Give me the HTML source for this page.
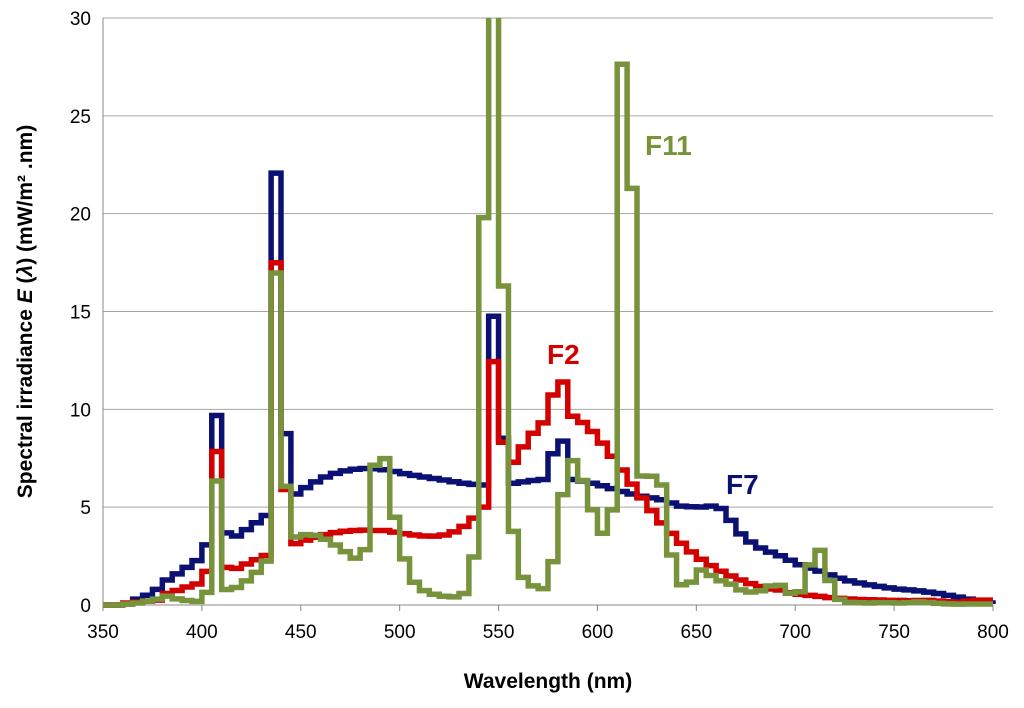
<!DOCTYPE html>
<html><head><meta charset="utf-8"><style>
body{margin:0;background:#fff;width:1024px;height:703px;overflow:hidden;font-family:"Liberation Sans",sans-serif}
</style></head><body>
<svg id="chart" width="1024" height="703" xmlns="http://www.w3.org/2000/svg"></svg>
<script>
const startWl = 360, stepWl = 5;
const f2Values = [0.2,0.3,0.4,0.5,1.18,1.48,1.84,2.15,3.44,15.69,3.85,3.74,4.19,4.62,5.06,34.98,11.81,6.27,6.63,6.93,7.19,7.40,7.54,7.62,7.65,7.62,7.62,7.45,7.28,7.15,7.05,7.04,7.16,7.47,8.04,8.88,10.01,24.88,16.64,14.59,16.16,17.56,18.62,21.47,22.79,19.29,18.66,17.73,16.54,15.21,13.80,12.36,10.95,9.65,8.40,7.32,6.31,5.43,4.68,4.02,3.45,2.96,2.55,2.19,1.89,1.64,1.53,1.27,1.10,0.99,0.88,0.76,0.68,0.61,0.56,0.54,0.51,0.47,0.47,0.43,0.46,0.47,0.40,0.33,0.27,0.4,0.5,0.5,0.5];
const f7Values = [0.1,0.6,1.0,1.6,2.56,3.18,3.84,4.53,6.15,19.37,7.37,7.05,7.71,8.41,9.15,44.14,17.52,11.35,12.00,12.58,13.08,13.45,13.71,13.88,13.95,13.93,13.82,13.64,13.43,13.25,13.08,12.93,12.78,12.60,12.44,12.33,12.26,29.52,17.05,12.44,12.58,12.72,12.83,15.46,16.75,12.83,12.67,12.45,12.19,11.89,11.60,11.35,11.12,10.95,10.76,10.42,10.11,10.04,10.02,10.11,9.87,8.65,7.27,6.44,5.83,5.41,5.04,4.57,4.12,3.77,3.46,3.08,2.73,2.47,2.25,2.06,1.90,1.75,1.62,1.54,1.45,1.32,1.17,0.99,0.81,0.6,0.4,0.2,0.1];
const f11Values = [0.1,0.2,0.4,0.6,0.91,0.63,0.46,0.37,1.29,12.68,1.59,1.79,2.46,3.33,4.49,33.94,12.13,6.95,7.19,7.12,6.72,6.13,5.46,4.79,5.66,14.29,14.96,8.97,4.72,2.33,1.47,1.10,0.89,0.83,1.18,4.90,39.59,72.84,32.61,7.52,2.83,1.96,1.67,4.43,11.28,14.76,12.73,9.74,7.33,9.72,55.27,42.58,13.18,13.16,12.26,5.11,2.07,2.34,3.58,3.01,2.48,2.14,1.54,1.33,1.46,1.94,2.00,1.20,1.35,4.10,5.58,2.51,0.57,0.27,0.23,0.21,0.24,0.24,0.20,0.24,0.32,0.26,0.16,0.12,0.09,0.1,0.1,0.1,0.1];
const scale = 0.5;
const xTicks = [350,400,450,500,550,600,650,700,750,800];
const yTicks = [0,5,10,15,20,25,30];

const L=103,R=993,T=18,B=605;
const xs = v => L+(v-350)/(800-350)*(R-L);
const ys = v => B-(v)/30*(B-T);
const svg=document.getElementById('chart');
const NS='http://www.w3.org/2000/svg';
function mk(tag,attrs,parent){const e=document.createElementNS(NS,tag);for(const k in attrs)e.setAttribute(k,attrs[k]);(parent||svg).appendChild(e);return e;}

const defs=mk('defs',{});
const cp=mk('clipPath',{id:'plotclip'},defs);
mk('rect',{x:L-3,y:T,width:R-L+6,height:B-T+3},cp);

yTicks.forEach(t=>{
  const g=mk('line',{x1:L,x2:R,y1:ys(t),y2:ys(t),stroke:t===0?'#888':'#a6a6a6','stroke-width':1});
  
  
  const tx=mk('text',{x:L-12,y:ys(t)+7,'text-anchor':'end','font-size':19,fill:'#000'});
  tx.textContent=t;
  
  
});
mk('line',{x1:L,x2:L,y1:T,y2:B,stroke:'#888','stroke-width':1});
xTicks.forEach(t=>{
  const l=mk('line',{x1:xs(t),x2:xs(t),y1:B,y2:B+6,stroke:'#888'});
  
  
  const tx=mk('text',{x:xs(t),y:B+33,'text-anchor':'middle','font-size':19,fill:'#000'});
  tx.textContent=t;
  
  
});

function series(vals,color,name){
  let d='M'+xs(350)+','+ys(0)+' L'+xs(startWl)+','+ys(0);
  vals.forEach((v,i)=>{
    const w0=startWl+i*stepWl, w1=Math.min(w0+stepWl,800);
    d+=' L'+xs(w0)+','+ys(v*scale)+' L'+xs(w1)+','+ys(v*scale);
  });
  const p=mk('path',{d:d,fill:'none',stroke:color,'stroke-width':5.5,'stroke-linejoin':'miter','clip-path':'url(#plotclip)'});
  
  
}
series(f7Values,'#0a1172','f7-line');
series(f2Values,'#d40000','f2-line');
series(f11Values,'#77933c','f11-line');

function label(txt,x,y,color,name){
  const t=mk('text',{x:x,y:y,'font-size':28,'font-weight':'bold',fill:color});
  t.textContent=txt;
  
  
}
label('F11',645,155,'#77933c','f11-label');
label('F2',547,364,'#d40000','f2-label');
label('F7',726,494,'#0a1172','f7-label');

const xt=mk('text',{x:(L+R)/2,y:688,'text-anchor':'middle','font-size':21,'font-weight':'bold'});
xt.textContent='Wavelength (nm)';


const yt=mk('text',{x:0,y:0,'text-anchor':'middle','font-size':21,'font-weight':'bold',transform:'translate(32,'+((T+B)/2)+') rotate(-90)'});
yt.innerHTML='Spectral irradiance <tspan font-style="italic">E</tspan> (<tspan font-style="italic">λ</tspan>) (mW/m² .nm)';


</script>
</body></html>
